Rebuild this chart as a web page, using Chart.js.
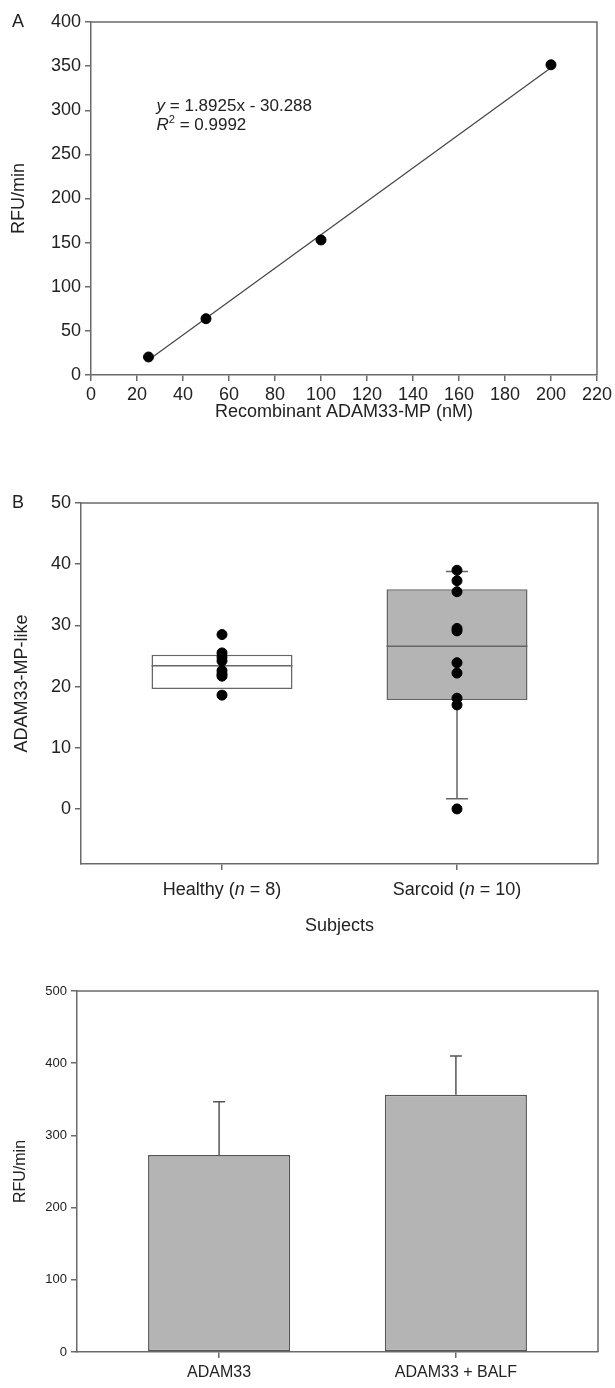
<!DOCTYPE html>
<html><head><meta charset="utf-8">
<script src="https://cdn.jsdelivr.net/npm/chart.js@4.4.0/dist/chart.umd.min.js"></script>
<style>
html,body{margin:0;padding:0;background:#fff;}
#wrap{position:relative;width:615px;height:1388px;overflow:hidden;}
canvas{position:absolute;left:0;}
</style></head><body>
<div id="wrap">
<canvas id="cA" width="615" height="440" style="top:0px"></canvas>
<canvas id="cB" width="615" height="510" style="top:440px"></canvas>
<canvas id="cC" width="615" height="438" style="top:950px"></canvas>
</div>
<script>
// ---------- Panel A data ----------
const concA = [25, 50, 100, 200];
const rfuA = [20.4, 63.8, 153.0, 351.5];
const fitX = [25, 200];
const fitY = [17.0, 348.2];
const xTicksA = [0, 20, 40, 60, 80, 100, 120, 140, 160, 180, 200, 220];
const yTicksA = [0, 50, 100, 150, 200, 250, 300, 350, 400];
const eqLine1 = ['y', ' = 1.8925x - 30.288'];
const eqLine2 = ['R', '2', ' = 0.9992'];

// ---------- Panel B data ----------
const groupsB = ['Healthy', 'Sarcoid'];
const groupNB = [8, 10];
const healthyPts = [28.5, 25.5, 24.8, 24.2, 22.6, 22.0, 21.7, 18.6];
const sarcoidPts = [39.0, 37.3, 35.5, 29.5, 29.1, 23.9, 22.2, 18.1, 17.0, 0.0];
const q1B = [19.6, 17.8];
const medianB = [23.4, 26.6];
const q3B = [25.2, 35.9];
const whiskerLowB = [null, 1.65];
const whiskerHighB = [null, 38.8];
const yTicksB = [0, 10, 20, 30, 40, 50];

// ---------- Panel C data ----------
const labelsC = ['ADAM33', 'ADAM33 + BALF'];
const meanC = [272.9, 356.3];
const errTopC = [346.6, 409.8];
const yTicksC = [0, 100, 200, 300, 400, 500];

const groupPos = [1, 2];

const AX = '#6a6a6a', TXT = '#222222';
const FONT = "'Liberation Sans', Arial, Helvetica, sans-serif";
Chart.defaults.font.family = FONT;
Chart.defaults.color = TXT;
Chart.defaults.animation = false;

function fixedTicks(arr) { return s => { s.ticks = arr.map(v => ({ value: v })); }; }

function axis(o) {
  const t = { color: TXT, font: { size: o.tickSize }, padding: o.tickPad != null ? o.tickPad : 4, maxRotation: 0, autoSkip: false };
  if (o.cb) t.callback = o.cb;
  return {
    type: 'linear', position: o.position, min: o.min, max: o.max, offset: false,
    afterBuildTicks: fixedTicks(o.ticks),
    afterFit: s => { if (o.width != null) s.width = o.width; if (o.height != null) s.height = o.height; },
    grid: { display: true, offset: false, drawOnChartArea: false, drawTicks: true, tickLength: 6, tickWidth: 1.5, tickColor: AX, color: AX, lineWidth: 1.5 },
    border: { display: true, color: AX, width: 1.5 },
    ticks: t,
    title: { display: !!o.title, text: o.title, color: TXT, font: { size: o.titleSize }, padding: o.titlePad }
  };
}

const framePlugin = {
  id: 'frame',
  afterDraw(chart) {
    const { ctx, chartArea: a } = chart;
    ctx.save();
    ctx.strokeStyle = AX; ctx.lineWidth = 1.5;
    ctx.beginPath();
    ctx.moveTo(a.left, a.top); ctx.lineTo(a.right, a.top); ctx.lineTo(a.right, a.bottom);
    ctx.stroke();
    ctx.restore();
  }
};

function panelLetter(letter, x, y) {
  return {
    id: 'letter' + letter,
    afterDraw(chart) {
      const ctx = chart.ctx;
      ctx.save();
      ctx.fillStyle = TXT; ctx.font = '18px ' + FONT;
      ctx.textAlign = 'left'; ctx.textBaseline = 'middle';
      ctx.fillText(letter, x, y);
      ctx.restore();
    }
  };
}

// draw mixed-style text; parts: [{t, italic, sup}]
function drawRich(ctx, parts, x, y, size, align) {
  const fontOf = p => (p.italic ? 'italic ' : '') + (p.sup ? Math.round(size * 0.62) : size) + 'px ' + FONT;
  let w = 0;
  parts.forEach(p => { ctx.font = fontOf(p); w += ctx.measureText(p.t).width; });
  let cx = align === 'center' ? x - w / 2 : x;
  ctx.textBaseline = 'middle'; ctx.textAlign = 'left';
  parts.forEach(p => {
    ctx.font = fontOf(p);
    ctx.fillText(p.t, cx, p.sup ? y - size * 0.32 : y);
    cx += ctx.measureText(p.t).width;
  });
}

// ================= Panel A =================
new Chart(document.getElementById('cA'), {
  type: 'scatter',
  data: {
    datasets: [
      { type: 'line', data: fitX.map((x, i) => ({ x, y: fitY[i] })), borderColor: '#444', borderWidth: 1.2, pointRadius: 0, fill: false, order: 2 },
      { type: 'scatter', data: concA.map((x, i) => ({ x, y: rfuA[i] })), backgroundColor: '#000', borderColor: '#000', pointRadius: 5, order: 1 }
    ]
  },
  options: {
    responsive: false,
    layout: { padding: { top: 22, right: 17, left: 0, bottom: 0 } },
    plugins: { legend: { display: false }, tooltip: { enabled: false } },
    scales: {
      x: axis({ position: 'bottom', min: 0, max: 220, ticks: xTicksA, height: 65, tickSize: 18, tickPad: 3, title: 'Recombinant ADAM33-MP (nM)', titleSize: 18, titlePad: { top: 0, bottom: 17 } }),
      y: axis({ position: 'left', min: 0, max: 400, ticks: yTicksA, width: 91, tickSize: 18, tickPad: 4, title: 'RFU/min', titleSize: 18, titlePad: { top: 8, bottom: 0 } })
    }
  },
  plugins: [framePlugin, panelLetter('A', 12, 22), {
    id: 'equation',
    afterDraw(chart) {
      const ctx = chart.ctx, xs = chart.scales.x, ys = chart.scales.y;
      ctx.save(); ctx.fillStyle = TXT;
      drawRich(ctx, [{ t: eqLine1[0], italic: true }, { t: eqLine1[1] }], xs.getPixelForValue(28.5), ys.getPixelForValue(304.5), 17, 'left');
      drawRich(ctx, [{ t: eqLine2[0], italic: true }, { t: eqLine2[1], sup: true }, { t: eqLine2[2] }], xs.getPixelForValue(28.5), ys.getPixelForValue(283), 17, 'left');
      ctx.restore();
    }
  }]
});

// ================= Panel B =================
const ptsB = [];
healthyPts.forEach(v => ptsB.push({ x: groupPos[0], y: v }));
sarcoidPts.forEach(v => ptsB.push({ x: groupPos[1], y: v }));

new Chart(document.getElementById('cB'), {
  type: 'bar',
  data: {
    datasets: [
      { type: 'bar', data: groupPos.map((x, i) => ({ x, y: [q1B[i], q3B[i]] })), backgroundColor: ['#ffffff', '#b4b4b4'], borderColor: '#666', borderWidth: 1.5, borderSkipped: false, barPercentage: 0.6, categoryPercentage: 1.0, order: 2 },
      { type: 'scatter', data: ptsB, backgroundColor: '#000', borderColor: '#000', pointRadius: 5, order: 1 }
    ]
  },
  options: {
    responsive: false,
    layout: { padding: { top: 63, right: 17, left: 0, bottom: 0 } },
    plugins: { legend: { display: false }, tooltip: { enabled: false } },
    scales: {
      x: axis({ position: 'bottom', min: 0.4, max: 2.6, ticks: groupPos, height: 86, tickSize: 18, cb: () => '', title: 'Subjects', titleSize: 18, titlePad: { top: 0, bottom: 13 } }),
      y: axis({ position: 'left', min: -9, max: 50, ticks: yTicksB, width: 81, tickSize: 18, tickPad: 4, title: 'ADAM33-MP-like', titleSize: 18, titlePad: { top: 11, bottom: 0 } })
    }
  },
  plugins: [framePlugin, panelLetter('B', 12, 63), {
    id: 'boxparts',
    afterDatasetDraw(chart, args) {
      if (args.index !== 0) return;
      const ctx = chart.ctx, ys = chart.scales.y;
      ctx.save();
      ctx.strokeStyle = '#666'; ctx.lineWidth = 1.5;
      args.meta.data.forEach((bar, i) => {
        const half = bar.width / 2;
        const ym = ys.getPixelForValue(medianB[i]);
        ctx.beginPath(); ctx.moveTo(bar.x - half, ym); ctx.lineTo(bar.x + half, ym); ctx.stroke();
        const capHalf = 11;
        if (whiskerHighB[i] != null) {
          const y0 = ys.getPixelForValue(q3B[i]), y1 = ys.getPixelForValue(whiskerHighB[i]);
          ctx.beginPath(); ctx.moveTo(bar.x, y0); ctx.lineTo(bar.x, y1);
          ctx.moveTo(bar.x - capHalf, y1); ctx.lineTo(bar.x + capHalf, y1); ctx.stroke();
        }
        if (whiskerLowB[i] != null) {
          const y0 = ys.getPixelForValue(q1B[i]), y1 = ys.getPixelForValue(whiskerLowB[i]);
          ctx.beginPath(); ctx.moveTo(bar.x, y0); ctx.lineTo(bar.x, y1);
          ctx.moveTo(bar.x - capHalf, y1); ctx.lineTo(bar.x + capHalf, y1); ctx.stroke();
        }
      });
      ctx.restore();
    },
    afterDraw(chart) {
      const ctx = chart.ctx, xs = chart.scales.x;
      ctx.save(); ctx.fillStyle = TXT;
      const yLab = chart.chartArea.bottom + 26;
      groupPos.forEach((p, i) => {
        drawRich(ctx, [{ t: groupsB[i] + ' (' }, { t: 'n', italic: true }, { t: ' = ' + groupNB[i] + ')' }], xs.getPixelForValue(p), yLab, 18, 'center');
      });
      ctx.restore();
    }
  }]
});

// ================= Panel C =================
new Chart(document.getElementById('cC'), {
  type: 'bar',
  data: {
    datasets: [
      { data: groupPos.map((x, i) => ({ x, y: meanC[i] })), backgroundColor: '#b4b4b4', borderColor: '#555', borderWidth: 1.5, borderSkipped: false, barPercentage: 0.6, categoryPercentage: 1.0 }
    ]
  },
  options: {
    responsive: false,
    layout: { padding: { top: 41, right: 17, left: 0, bottom: 0 } },
    plugins: { legend: { display: false }, tooltip: { enabled: false } },
    scales: {
      x: axis({ position: 'bottom', min: 0.4, max: 2.6, ticks: groupPos, height: 36, tickSize: 16, tickPad: 5, cb: (v, i) => labelsC[i] }),
      y: axis({ position: 'left', min: 0, max: 500, ticks: yTicksC, width: 77, tickSize: 13, tickPad: 4, title: 'RFU/min', titleSize: 16, titlePad: { top: 11, bottom: 0 } })
    }
  },
  plugins: [framePlugin, {
    id: 'errbars',
    afterDatasetsDraw(chart) {
      const ctx = chart.ctx, ys = chart.scales.y;
      const meta = chart.getDatasetMeta(0);
      ctx.save(); ctx.strokeStyle = '#555'; ctx.lineWidth = 1.5;
      meta.data.forEach((bar, i) => {
        const y1 = ys.getPixelForValue(errTopC[i]);
        ctx.beginPath(); ctx.moveTo(bar.x, bar.y); ctx.lineTo(bar.x, y1);
        ctx.moveTo(bar.x - 6, y1); ctx.lineTo(bar.x + 6, y1); ctx.stroke();
      });
      ctx.restore();
    }
  }]
});
</script>
</body></html>
